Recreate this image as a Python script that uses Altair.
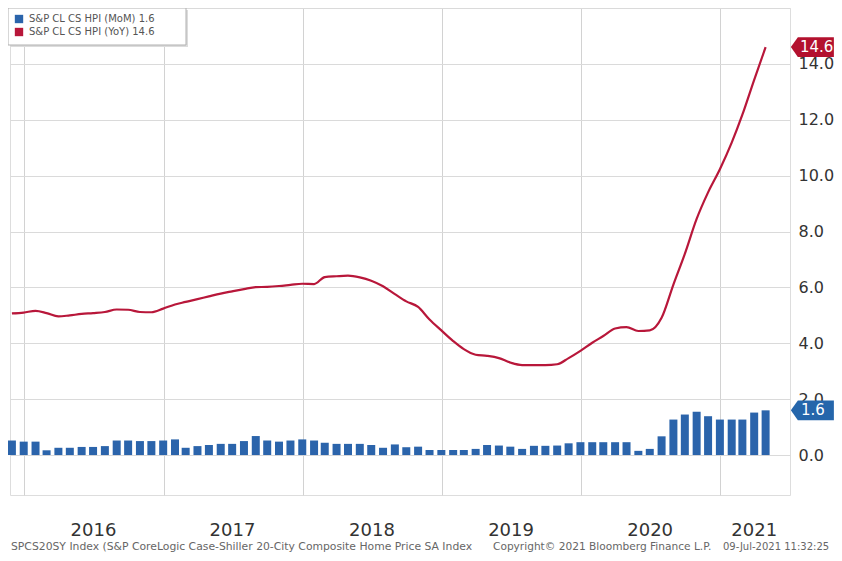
import calendar
import altair as alt
import pandas as pd

# ---- data ----
months = [(2015, 11), (2015, 12)] + [(y, m) for y in range(2016, 2021) for m in range(1, 13)] + [(2021, m) for m in range(1, 5)]
dates = [f"{y}-{m:02d}-{calendar.monthrange(y, m)[1]:02d}" for y, m in months]

yoy = [5.07, 5.10,
       5.16, 5.08, 4.96, 5.00, 5.05, 5.08, 5.12, 5.21, 5.20, 5.12, 5.11, 5.24,
       5.39, 5.48, 5.58, 5.68, 5.78, 5.86, 5.94, 6.01, 6.02, 6.05, 6.09, 6.13,
       6.12, 6.37, 6.40, 6.42, 6.36, 6.24, 6.04, 5.76, 5.50, 5.30, 4.85, 4.46,
       4.08, 3.79, 3.59, 3.55, 3.47, 3.31, 3.22, 3.22, 3.22, 3.25, 3.47, 3.73,
       4.02, 4.26, 4.53, 4.58, 4.44, 4.46, 4.91, 6.10, 7.20, 8.45, 9.40, 10.23,
       11.18, 12.18, 13.43, 14.6]

mom = [0.52, 0.48,
       0.48, 0.17, 0.26, 0.26, 0.29, 0.29, 0.32, 0.52, 0.52, 0.50, 0.50, 0.52,
       0.56, 0.26, 0.32, 0.36, 0.40, 0.40, 0.50, 0.68, 0.52, 0.48, 0.52, 0.56,
       0.52, 0.44, 0.40, 0.40, 0.40, 0.36, 0.26, 0.38, 0.28, 0.30, 0.18, 0.18,
       0.18, 0.18, 0.22, 0.36, 0.34, 0.30, 0.22, 0.33, 0.33, 0.34, 0.42, 0.46,
       0.46, 0.46, 0.46, 0.46, 0.15, 0.22, 0.67, 1.27, 1.45, 1.55, 1.39, 1.27,
       1.27, 1.27, 1.52, 1.60]

series_names = ["S&P CL CS HPI (MoM)", "S&P CL CS HPI (YoY)"]
legend_labels = [f"{series_names[0]} {mom[-1]:.1f}", f"{series_names[1]} {yoy[-1]:.1f}"]

year_labels = ["2016", "2017", "2018", "2019", "2020", "2021"]
year_label_dates = ["2016-07-01", "2017-07-01", "2018-07-02", "2019-07-02", "2020-07-01", "2021-03-31"]
y_ticks = [0, 2, 4, 6, 8, 10, 12, 14, 16]

footnotes = ["SPCS20SY Index (S&P CoreLogic Case-Shiller 20-City Composite Home Price SA Index",
             "Copyright\u00a9 2021 Bloomberg Finance L.P.",
             "09-Jul-2021 11:32:25"]

BLUE = "#2b64ab"
RED = "#b8173a"
BADGE_RED = "#b3112e"
BADGE_BLUE = "#2566ab"

df = pd.DataFrame({"date": dates, "mom": mom, "yoy": yoy, "series": legend_labels[0]})
years_df = pd.DataFrame({"date": year_label_dates, "year": year_labels})
yoy_last = pd.DataFrame({"value": [yoy[-1]]})
mom_last = pd.DataFrame({"value": [mom[-1]]})

x_scale = alt.Scale(domain=[alt.DateTime(year=2015, month=11, date=25),
                            alt.DateTime(year=2021, month=7, date=3)], padding=0)
y_scale = alt.Scale(domain=[-1.43, 16], nice=False, zero=False)

x_enc = alt.X("date:T", scale=x_scale,
              axis=alt.Axis(values=[alt.DateTime(year=y, month=1, date=1) for y in range(2016, 2022)],
                            labels=False, ticks=False, domain=False, grid=True,
                            gridColor="#d2d2d2", gridWidth=1, title=None))

y_axis = alt.Axis(orient="right", values=y_ticks, grid=True, gridColor="#dadada", gridWidth=1,
                  ticks=False, domain=False, title=None, labelFontSize=16, labelColor="#333333",
                  labelPadding=8, labelFont="DejaVu Sans",
                  labelExpr="datum.value >= 16 ? '' : format(datum.value, '.1f')")

# legend frame (drawn behind the legend entries)
legend_shadow = alt.Chart(df.head(1)).mark_rect(fill="#dcdcdc").encode(
    x=alt.value(0), x2=alt.value(178), y=alt.value(2), y2=alt.value(39))
legend_box = alt.Chart(df.head(1)).mark_rect(fill="white", stroke="#b0b0b0", strokeWidth=1).encode(
    x=alt.value(-2), x2=alt.value(176), y=alt.value(0), y2=alt.value(37))

bars = alt.Chart(df).mark_bar(size=8).encode(
    x=x_enc,
    y=alt.Y("mom:Q", scale=y_scale, axis=y_axis),
    color=alt.Color("series:N",
                    scale=alt.Scale(domain=legend_labels, range=[BLUE, RED]),
                    legend=alt.Legend(orient="none", legendX=-2, legendY=0, title=None,
                                      symbolType="square", symbolSize=70, symbolStrokeWidth=0,
                                      labelFontSize=10, labelColor="#555555", labelFont="DejaVu Sans",
                                      padding=6, rowPadding=3, labelOffset=5)),
)

line = alt.Chart(df).mark_line(color=RED, strokeWidth=2.2, interpolate="monotone").encode(
    x="date:T",
    y="yoy:Q",
)

badge_shape = "M-0.6,0 L-0.34,-0.37 L1,-0.37 L1,0.37 L-0.34,0.37 Z"
badge_size = 2894

badge_red = alt.Chart(yoy_last).mark_point(shape=badge_shape, size=badge_size, filled=True, opacity=1,
                                           color=BADGE_RED).encode(x=alt.value(797), y="value:Q")
text_red = alt.Chart(yoy_last).mark_text(color="white", fontSize=15, align="left", baseline="middle",
                                         font="DejaVu Sans").encode(
    x=alt.value(790), y="value:Q", text=alt.Text("value:Q", format=".1f"))

badge_blue = alt.Chart(mom_last).mark_point(shape=badge_shape, size=badge_size, filled=True, opacity=1,
                                            color=BADGE_BLUE).encode(x=alt.value(797), y="value:Q")
text_blue = alt.Chart(mom_last).mark_text(color="white", fontSize=15, align="left", baseline="middle",
                                          font="DejaVu Sans").encode(
    x=alt.value(791), y="value:Q", text=alt.Text("value:Q", format=".1f"))

years = alt.Chart(years_df).mark_text(fontSize=18, color="#333333", align="center", baseline="middle",
                                      font="DejaVu Sans").encode(
    x="date:T", y=alt.value(523), text="year:N")

foot_x = [1, 483, 713]
foot_size = [10.8, 10.6, 10]
foot_layers = [
    alt.Chart(pd.DataFrame({"t": [t]})).mark_text(fontSize=fs, color="#666666", align="left",
                                                  baseline="middle", font="DejaVu Sans").encode(
        x=alt.value(fx), y=alt.value(539), text="t:N")
    for t, fx, fs in zip(footnotes, foot_x, foot_size)
]

chart = alt.layer(legend_shadow, legend_box, bars, line, badge_red, text_red, badge_blue, text_blue,
                  years, *foot_layers).properties(
    width=780, height=487,
    padding={"left": 2, "top": 0, "right": 44, "bottom": 58},
    autosize=alt.AutoSizeParams(type="none"),
    background="white",
).configure_view(stroke=None).configure(font="DejaVu Sans")

chart.save("out.html", embed_options={"renderer": "svg", "actions": False})
